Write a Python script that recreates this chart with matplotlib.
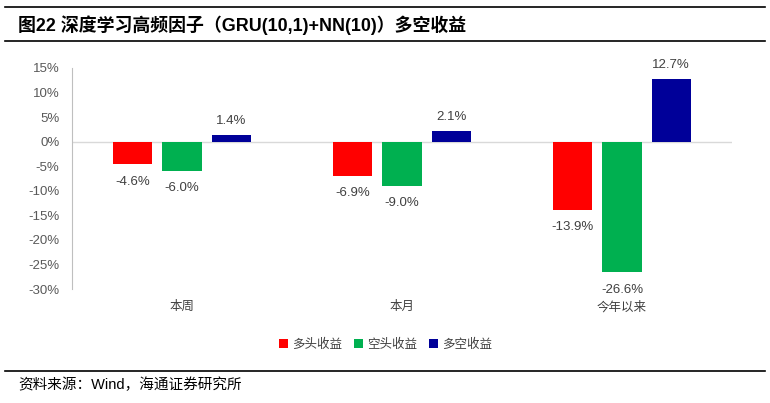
import matplotlib
matplotlib.use('Agg')
import matplotlib.pyplot as plt
from matplotlib.lines import Line2D
from matplotlib.ticker import FuncFormatter

plt.rcParams['font.family'] = ['Liberation Sans', 'Noto Sans CJK SC', 'DejaVu Sans']

categories = ['本周', '本月', '今年以来']
series_names = ['多头收益', '空头收益', '多空收益']
long_ret = [-4.6, -6.9, -13.9]
short_ret = [-6.0, -9.0, -26.6]
ls_ret = [1.4, 2.1, 12.7]
colors = ['#FF0000', '#00B050', '#000099']
yticks = [15, 10, 5, 0, -5, -10, -15, -20, -25, -30]

fig = plt.figure(figsize=(7.7, 4.03), dpi=100)
ax = fig.add_axes([72/770, 1-289/403, 660/770, 221/403])

width = 0.178
offsets = [-0.224, 0.0, 0.224]
for vals, off, c, name in zip([long_ret, short_ret, ls_ret], offsets, colors, series_names):
    xs = [i + off for i in range(len(categories))]
    ax.bar(xs, vals, width, color=c, label=name, zorder=3)
    for x, v in zip(xs, vals):
        if v >= 0:
            ax.text(x, v + 1.6, f'{v:.1f}%', ha='center', va='bottom', fontsize=9.5, color='#404040')
        else:
            ax.text(x, v - 2.3, f'{v:.1f}%', ha='center', va='top', fontsize=9.5, color='#404040')

ax.set_xlim(-0.5, 2.5)
ax.set_ylim(-30, 15)
ax.set_yticks(yticks)
ax.yaxis.set_major_formatter(FuncFormatter(lambda v, p: f'{v:.0f}%'))
ax.tick_params(axis='y', length=0, labelsize=9.5, labelcolor='#595959', pad=9)
ax.set_xticks([])
for i, cat in enumerate(categories):
    ax.text(i, -32.4, cat, ha='center', va='top', fontsize=9, color='#404040')
ax.axhline(0, color='#D9D9D9', lw=1, zorder=2)
for s in ['top', 'right', 'bottom']:
    ax.spines[s].set_visible(False)
ax.spines['left'].set_color('#BFBFBF')

ax.legend(loc='upper center', bbox_to_anchor=(0.475, -0.175), ncol=3, frameon=False,
          fontsize=9, handlelength=0.7, handleheight=0.7, handletextpad=0.3,
          columnspacing=1.0, labelcolor='#404040')

# title block and lines
fig.add_artist(Line2D([5/770, 765/770], [1-7/403, 1-7/403], color='black', lw=1.2))
fig.add_artist(Line2D([5/770, 765/770], [1-41/403, 1-41/403], color='black', lw=1.2))
fig.add_artist(Line2D([5/770, 765/770], [1-371/403, 1-371/403], color='black', lw=1.2))
fig.text(18/770, 1-25/403, '图22 深度学习高频因子（GRU(10,1)+NN(10)）多空收益',
         fontsize=12.9, fontweight='bold', va='center', ha='left')
fig.text(18/770, 1-385/403, '资料来源：Wind，海通证券研究所', fontsize=10.5, va='center', ha='left')

fig.savefig('out.png', dpi=100)
